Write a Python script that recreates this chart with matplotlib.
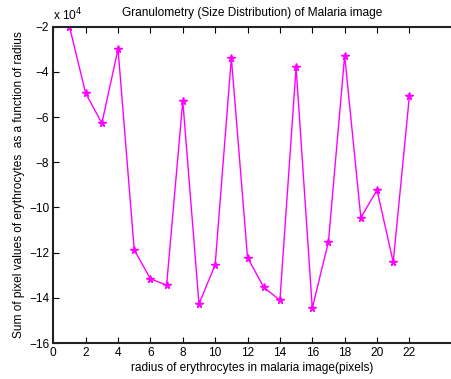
import numpy as np
import matplotlib
matplotlib.use('Agg')
import matplotlib.pyplot as plt

plt.rcParams['font.family'] = ['Liberation Sans', 'DejaVu Sans']

# radius (pixels) and summed pixel values (x 10^4)
radius = list(range(1, 23))
pixel_sum = [-2.0, -4.95, -6.27, -2.99, -11.88, -13.16, -13.44, -5.29, -14.27, -12.54,
             -3.37, -12.22, -13.53, -14.11, -3.80, -14.46, -11.51, -3.28, -10.45, -9.23,
             -12.42, -5.07]
xticks = list(range(0, 23, 2))
yticks = list(range(-16, -1, 2))

fs = 8.6
fig = plt.figure(figsize=(4.51, 3.79), dpi=100)
ax = fig.add_axes([53.3 / 451, 1 - 343 / 379, 1 - 53.3 / 451, (343 - 26.7) / 379])

ax.plot(radius, pixel_sum, color='#ff00ff', lw=1.0, marker='*', ms=5.5, mec='#ff00ff', mfc='#ff00ff')

ax.set_xlim(0, 24.57)
ax.set_ylim(-16, -2)
ax.set_xticks(xticks)
ax.set_yticks(yticks)
ax.tick_params(direction='in', top=True, right=False, labelsize=fs, length=4, width=0.8, pad=3)
for side in ['left', 'bottom', 'top']:
    ax.spines[side].set_linewidth(1.5)
    ax.spines[side].set_color('#222222')
ax.spines['right'].set_visible(False)

ax.set_title('Granulometry (Size Distribution) of Malaria image', fontsize=fs, pad=8)
ax.set_xlabel('radius of erythrocytes in malaria image(pixels)', fontsize=fs, labelpad=2)
ax.set_ylabel('Sum of pixel values of erythrocytes  as a function of radius', fontsize=fs, labelpad=3)
ax.text(0.0, 1.012, r'x 10$^4$', transform=ax.transAxes, fontsize=fs, ha='left', va='bottom')

fig.savefig('out.png', dpi=100)
